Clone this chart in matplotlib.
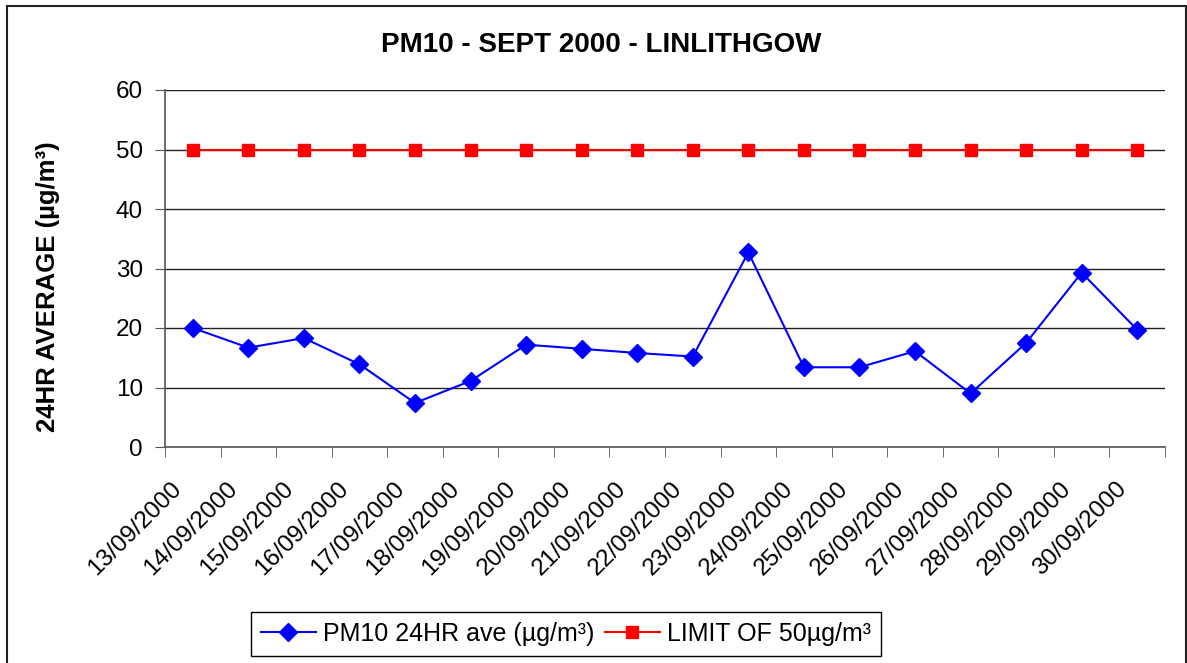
import numpy as np
import matplotlib
matplotlib.use('Agg')
import matplotlib.pyplot as plt
from matplotlib.patches import Rectangle

plt.rcParams['font.family'] = ['Liberation Sans', 'DejaVu Sans']

# data
dates = ['13/09/2000', '14/09/2000', '15/09/2000', '16/09/2000', '17/09/2000',
         '18/09/2000', '19/09/2000', '20/09/2000', '21/09/2000', '22/09/2000',
         '23/09/2000', '24/09/2000', '25/09/2000', '26/09/2000', '27/09/2000',
         '28/09/2000', '29/09/2000', '30/09/2000']
pm10 = [20.0, 16.7, 18.3, 13.9, 7.4, 11.1, 17.2, 16.5, 15.8, 15.2,
        32.7, 13.4, 13.4, 16.1, 9.0, 17.5, 29.3, 19.7]
limit = [50] * len(dates)
y_ticks = [0, 10, 20, 30, 40, 50, 60]

W, H = 1187, 663
fig = plt.figure(figsize=(W / 100, H / 100), dpi=100)
ax = fig.add_axes([165 / W, 1 - 447 / H, 1000 / W, 357 / H])

x = np.arange(len(dates))
ax.plot(x, pm10, color='#0000FF', lw=1.5, marker='D', ms=9,
        label='PM10 24HR ave (µg/m³)', zorder=3)
ax.plot(x, limit, color='#FF0000', lw=1.5, marker='s', ms=8,
        label='LIMIT OF 50µg/m³', zorder=3)

ax.set_xlim(-0.5, len(dates) - 0.5)
ax.set_ylim(0, 60)
ax.set_yticks(y_ticks)
ax.yaxis.grid(True, color='#222222', lw=1)
ax.set_axisbelow(True)

for s in ['top', 'right']:
    ax.spines[s].set_visible(False)
for s in ['left', 'bottom']:
    ax.spines[s].set_color('#555555')
    ax.spines[s].set_linewidth(1.2)

# category labels, rotated, ending left-below each category centre
ax.set_xticks(x)
ax.set_xticklabels([])
ax.set_xticks(np.arange(-0.5, len(dates)), minor=True)
ax.tick_params(axis='x', which='major', length=0)
ax.tick_params(axis='x', which='minor', length=7, color='#555555', direction='out')
ax.tick_params(axis='y', length=7, color='#555555', labelsize=17.5, pad=9)
for i, d in enumerate(dates):
    ax.annotate(d, xy=(i, 0), xycoords=('data', 'axes fraction'),
                xytext=(-22, -31), textcoords='offset pixels',
                rotation=45, ha='right', va='top', rotation_mode='anchor',
                fontsize=17.5)

ax.set_ylabel('24HR AVERAGE (µg/m³)', fontsize=18.5, fontweight='bold')
ax.yaxis.set_label_coords(-0.105, 0.45)

fig.text(601 / W, 1 - 45 / H, 'PM10 - SEPT 2000 - LINLITHGOW',
         ha='center', va='center', fontsize=20, fontweight='bold')

leg = fig.legend(loc='center', bbox_to_anchor=(566 / W, 1 - 634 / H), ncol=2,
                 fontsize=18, fancybox=False, edgecolor='black', framealpha=1,
                 handlelength=2.2, columnspacing=0.4, handletextpad=0.3,
                 borderpad=0.4, borderaxespad=0)
leg.get_frame().set_linewidth(1)

fig.patches.append(Rectangle((7 / W, -0.05), 1179 / W, 1.05 - 6 / H,
                             transform=fig.transFigure, fill=False,
                             edgecolor='#222222', lw=1.5))

fig.savefig('out.png', dpi=100)
